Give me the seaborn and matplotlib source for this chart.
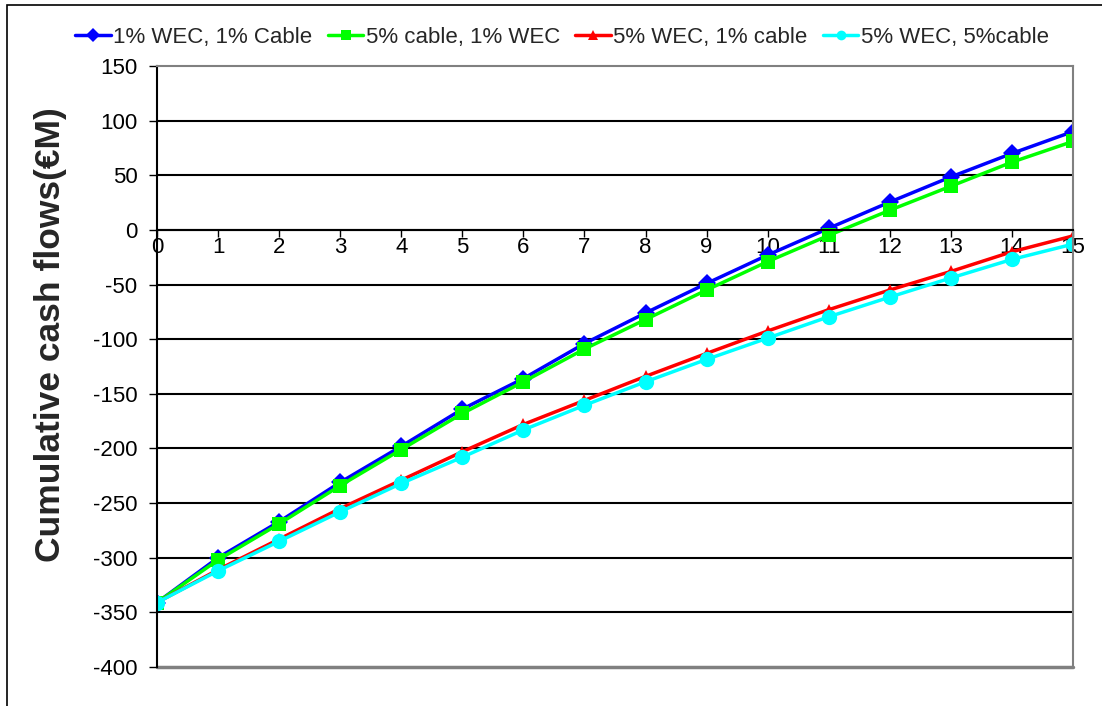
import matplotlib
matplotlib.use("Agg")
import matplotlib.pyplot as plt
import seaborn as sns
import pandas as pd
from matplotlib.patches import Rectangle

years = list(range(16))
series_names = ["1% WEC, 1% Cable", "5% cable, 1% WEC", "5% WEC, 1% cable", "5% WEC, 5%cable"]
wec1_cable1 = [-341, -300, -267, -231, -198, -164, -136, -104, -76, -49, -23, 1.5, 25.5, 48.5, 70, 90]
cable5_wec1 = [-341, -302, -269, -234, -201, -168, -139, -109, -82, -55, -29, -5, 18, 40, 62, 81]
wec5_cable1 = [-341, -311, -283, -255, -229, -203, -178, -156, -134, -113, -92.5, -73, -55, -38, -20, -5.5]
wec5_cable5 = [-341, -312, -285, -258, -232, -208, -183, -160.5, -139, -118.5, -99, -79.5, -61.5, -44, -27, -13]
y_ticks = list(range(-400, 151, 50))

values = [wec1_cable1, cable5_wec1, wec5_cable1, wec5_cable5]
df = pd.DataFrame({
    "year": years * 4,
    "value": sum(values, []),
    "series": sum([[n] * len(years) for n in series_names], []),
})

sns.set_theme(style="white")
plt.rcParams["font.family"] = ["Liberation Sans", "DejaVu Sans"]

palette = dict(zip(series_names, ["#0000FF", "#00FF00", "#FF0000", "#00FFFF"]))
markers = dict(zip(series_names, ["D", "s", "^", "o"]))
msizes = {"D": 9, "s": 10, "^": 8, "o": 11}

fig = plt.figure(figsize=(11.02, 7.06), dpi=100)
ax = fig.add_axes([157 / 1102, 1 - 667 / 706, (1073 - 157) / 1102, (667 - 66) / 706])

sns.lineplot(data=df, x="year", y="value", hue="series", style="series",
             palette=palette, markers=markers, dashes=False, linewidth=2.5,
             markersize=9, markeredgewidth=0, ax=ax, legend=False)
for line, n in zip(ax.lines, series_names):
    line.set_markersize(msizes[markers[n]])

ax.set_xlim(0, 15)
ax.set_ylim(-400, 150)
ax.set_yticks(y_ticks)
ax.set_yticklabels([str(t) for t in y_ticks])
ax.set_xticks(years)
ax.set_xticklabels([str(y) for y in years])
for y in y_ticks[1:-1]:
    ax.axhline(y, color="black", lw=1.5, zorder=0)

ax.spines["left"].set_color("black")
ax.spines["left"].set_linewidth(1.5)
ax.spines["bottom"].set_position(("data", 0))
ax.spines["bottom"].set_color("black")
ax.spines["bottom"].set_linewidth(1.5)
for s in ["top", "right"]:
    ax.spines[s].set_color("#808080")
    ax.spines[s].set_linewidth(1.5)
ax.axhline(-400, color="#808080", lw=2.5, zorder=0, clip_on=False)

ax.tick_params(axis="x", direction="out", length=5, width=1, color="black",
               pad=0, labelcolor="black", labelsize=16, bottom=True)
ax.tick_params(axis="y", direction="out", length=6, width=1, color="black",
               pad=8, labelcolor="black", left=True, labelsize=16)
ax.set_xlabel("")
ax.set_ylabel("Cumulative cash flows(€M)", fontsize=25.5, fontweight="bold")
ax.yaxis.set_label_coords(-90 / 916, (667 - 335) / 601)

handles = [plt.Line2D([], [], color=palette[n], marker=markers[n], lw=2.5,
                      markersize=7, markeredgewidth=0) for n in series_names]
fig.legend(handles, series_names, loc="center", bbox_to_anchor=(562 / 1102, 1 - 37 / 706),
           ncol=4, frameon=False, fontsize=16, handlelength=1.6, handletextpad=0.1,
           columnspacing=0.7)

fig.add_artist(Rectangle((7 / 1102, -0.1), 1.2, (1 - 5 / 706) + 0.1, transform=fig.transFigure,
                         fill=False, edgecolor="black", lw=1.2))

fig.savefig("out.png", dpi=100)
